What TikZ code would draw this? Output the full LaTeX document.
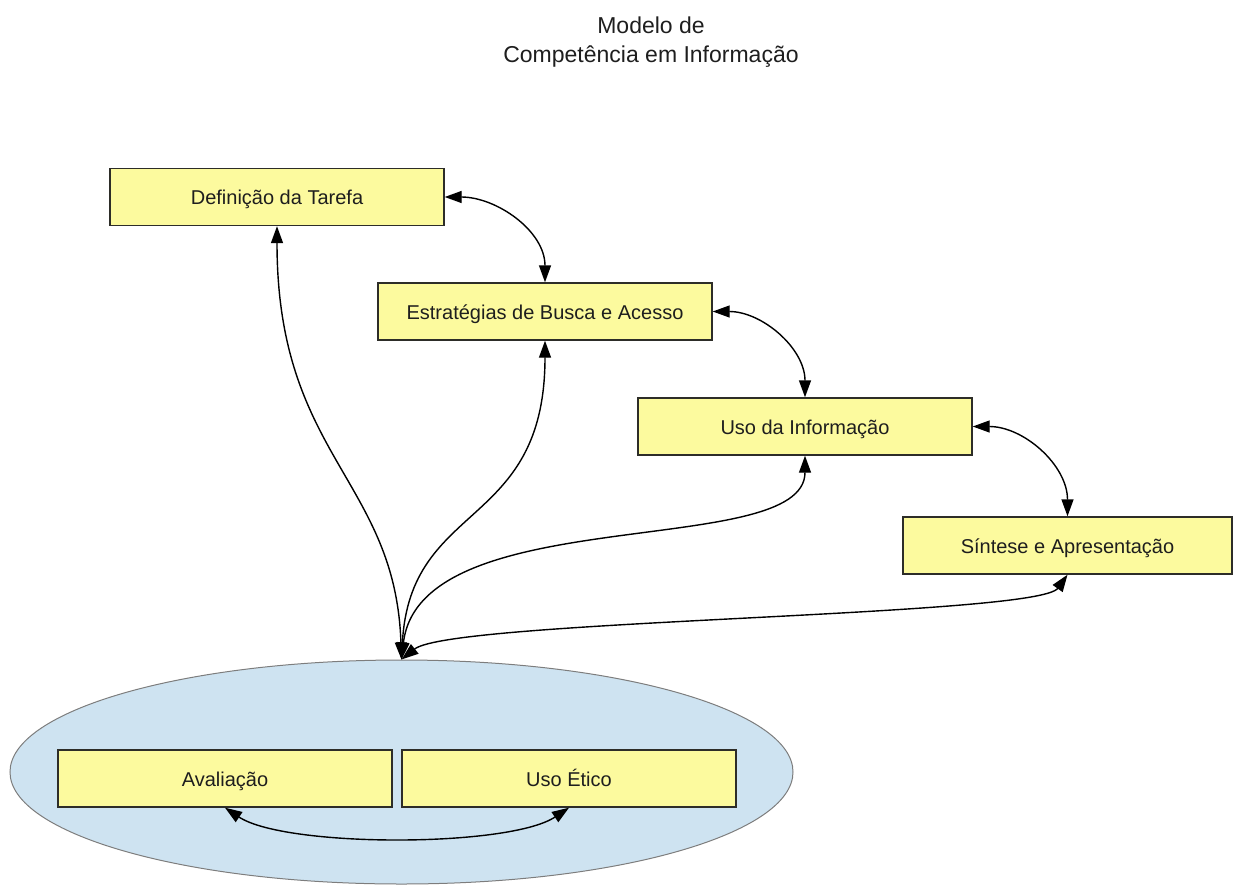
\documentclass[tikz,border=0pt]{standalone}
\usepackage{fontspec}
\setmainfont{Liberation Sans}
\usetikzlibrary{arrows.meta,shapes.geometric}
\definecolor{boxfill}{RGB}{252,250,158}
\definecolor{boxdraw}{RGB}{45,45,40}
\definecolor{ovalfill}{RGB}{206,227,241}
\definecolor{ovaldraw}{RGB}{125,125,125}
\definecolor{inktext}{RGB}{30,30,30}

\begin{document}
\begin{tikzpicture}[x=1pt,y=1pt,
  stage/.style={draw=boxdraw, line width=1.4pt, fill=boxfill,
    minimum width=334pt, minimum height=57pt, inner sep=0pt,
    text height=15pt, text depth=0pt,
    font=\fontsize{20}{24}\selectfont, text=inktext},
  titletext/.style={anchor=base, font=\fontsize{23}{28}\selectfont, text=inktext},
  link/.style={line width=1.4pt, black,
    {Triangle[length=17pt,width=12pt]}-{Triangle[length=17pt,width=12pt]}},
]
\useasboundingbox (0,0) rectangle (1234,-886);

% title
\node[titletext] (title1) at (651,-33) {Modelo de};
\node[titletext] (title2) at (651,-62) {Competência em Informação};

% container for the two transversal stages
\node[ellipse, draw=ovaldraw, line width=1pt, fill=ovalfill,
      minimum width=783pt, minimum height=224pt, inner sep=0pt] (el) at (401.5,-772) {};

% stages
\node[stage] (t1) at (277,-197) {Definição da Tarefa};
\node[stage] (t2) at (545,-311.5) {Estratégias de Busca e Acesso};
\node[stage] (t3) at (805,-426.5) {Uso da Informação};
\node[stage, minimum width=329pt] (t4) at (1067.5,-545.5) {Síntese e Apresentação};
\node[stage] (ev) at (225,-778.5) {Avaliação};
\node[stage] (et) at (569,-778.5) {Uso Ético};

% sequence links
\draw[link] (t1.east) to[out=0,in=90] (t2.north);
\draw[link] (t2.east) to[out=0,in=90] (t3.north);
\draw[link] (t3.east) to[out=0,in=90] (t4.north);

% links from every stage to the transversal container
\draw[link] (t1.south) .. controls +(0,-230) and +(-6,180) .. (el.north);
\draw[link] (t2.south) .. controls +(0,-190) and +(8.5,160) .. (el.north);
\draw[link] (t3.south) .. controls +(0,-105) and +(18.5,160) .. (el.north);
\draw[link] (t4.south) .. controls +(-30,-42) and +(50,40) .. (el.north);

% link inside the container
\draw[link] (ev.south) .. controls +(60,-40) and +(-60,-40) .. (et.south);
\end{tikzpicture}
\end{document}
